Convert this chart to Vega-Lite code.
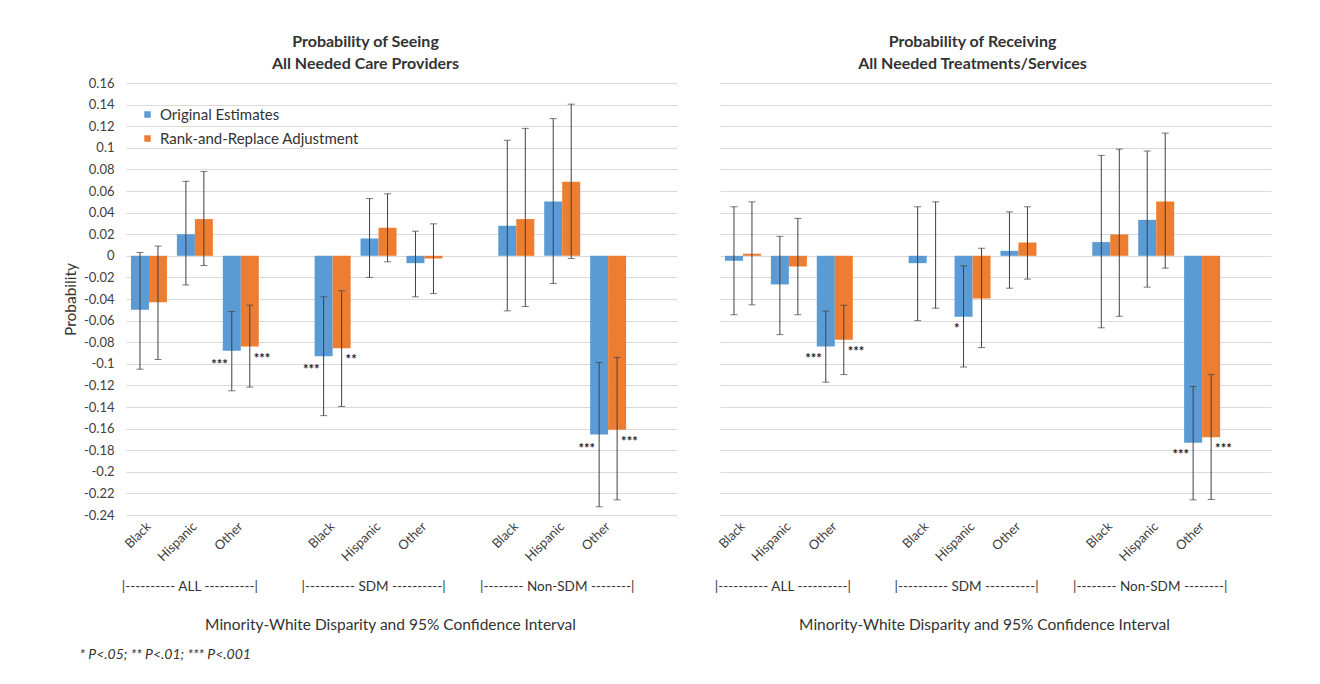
{
  "$schema": "https://vega.github.io/schema/vega-lite/v6.json",
  "padding": {"left": 63, "top": 34, "right": 10, "bottom": 5},
  "background": "white",
  "config": {
    "view": {"stroke": null},
    "font": "Lato",
    "axis": {"labelFont": "Lato", "titleFont": "Lato", "labelColor": "#404040", "titleColor": "#404040"},
    "legend": {"labelFont": "Lato"},
    "title": {"font": "Lato"}
  },
  "datasets": {
    "rows": [
      {"panel": "Seeing", "slot": "ALL|Black", "series": "Original Estimates", "v": -0.050, "lo": -0.105, "hi": 0.003, "sig": ""},
      {"panel": "Seeing", "slot": "ALL|Black", "series": "Rank-and-Replace Adjustment", "v": -0.043, "lo": -0.096, "hi": 0.009, "sig": ""},
      {"panel": "Seeing", "slot": "ALL|Hispanic", "series": "Original Estimates", "v": 0.020, "lo": -0.027, "hi": 0.069, "sig": ""},
      {"panel": "Seeing", "slot": "ALL|Hispanic", "series": "Rank-and-Replace Adjustment", "v": 0.034, "lo": -0.009, "hi": 0.078, "sig": ""},
      {"panel": "Seeing", "slot": "ALL|Other", "series": "Original Estimates", "v": -0.088, "lo": -0.125, "hi": -0.0515, "sig": "***"},
      {"panel": "Seeing", "slot": "ALL|Other", "series": "Rank-and-Replace Adjustment", "v": -0.084, "lo": -0.1216, "hi": -0.0457, "sig": "***"},
      {"panel": "Seeing", "slot": "SDM|Black", "series": "Original Estimates", "v": -0.093, "lo": -0.148, "hi": -0.038, "sig": "***"},
      {"panel": "Seeing", "slot": "SDM|Black", "series": "Rank-and-Replace Adjustment", "v": -0.0855, "lo": -0.1395, "hi": -0.0324, "sig": "**"},
      {"panel": "Seeing", "slot": "SDM|Hispanic", "series": "Original Estimates", "v": 0.016, "lo": -0.020, "hi": 0.053, "sig": ""},
      {"panel": "Seeing", "slot": "SDM|Hispanic", "series": "Rank-and-Replace Adjustment", "v": 0.026, "lo": -0.0056, "hi": 0.0574, "sig": ""},
      {"panel": "Seeing", "slot": "SDM|Other", "series": "Original Estimates", "v": -0.0068, "lo": -0.038, "hi": 0.0228, "sig": ""},
      {"panel": "Seeing", "slot": "SDM|Other", "series": "Rank-and-Replace Adjustment", "v": -0.0025, "lo": -0.035, "hi": 0.0296, "sig": ""},
      {"panel": "Seeing", "slot": "Non-SDM|Black", "series": "Original Estimates", "v": 0.0278, "lo": -0.051, "hi": 0.107, "sig": ""},
      {"panel": "Seeing", "slot": "Non-SDM|Black", "series": "Rank-and-Replace Adjustment", "v": 0.034, "lo": -0.047, "hi": 0.118, "sig": ""},
      {"panel": "Seeing", "slot": "Non-SDM|Hispanic", "series": "Original Estimates", "v": 0.0503, "lo": -0.0256, "hi": 0.127, "sig": ""},
      {"panel": "Seeing", "slot": "Non-SDM|Hispanic", "series": "Rank-and-Replace Adjustment", "v": 0.0685, "lo": -0.0025, "hi": 0.1404, "sig": ""},
      {"panel": "Seeing", "slot": "Non-SDM|Other", "series": "Original Estimates", "v": -0.1655, "lo": -0.2324, "hi": -0.0988, "sig": "***"},
      {"panel": "Seeing", "slot": "Non-SDM|Other", "series": "Rank-and-Replace Adjustment", "v": -0.161, "lo": -0.226, "hi": -0.094, "sig": "***"},
      {"panel": "Receiving", "slot": "ALL|Black", "series": "Original Estimates", "v": -0.0046, "lo": -0.0546, "hi": 0.0454, "sig": ""},
      {"panel": "Receiving", "slot": "ALL|Black", "series": "Rank-and-Replace Adjustment", "v": 0.0019, "lo": -0.0454, "hi": 0.050, "sig": ""},
      {"panel": "Receiving", "slot": "ALL|Hispanic", "series": "Original Estimates", "v": -0.0265, "lo": -0.073, "hi": 0.018, "sig": ""},
      {"panel": "Receiving", "slot": "ALL|Hispanic", "series": "Rank-and-Replace Adjustment", "v": -0.0099, "lo": -0.0546, "hi": 0.0346, "sig": ""},
      {"panel": "Receiving", "slot": "ALL|Other", "series": "Original Estimates", "v": -0.084, "lo": -0.117, "hi": -0.0512, "sig": "***"},
      {"panel": "Receiving", "slot": "ALL|Other", "series": "Rank-and-Replace Adjustment", "v": -0.0778, "lo": -0.110, "hi": -0.0457, "sig": "***"},
      {"panel": "Receiving", "slot": "SDM|Black", "series": "Original Estimates", "v": -0.0068, "lo": -0.060, "hi": 0.0454, "sig": ""},
      {"panel": "Receiving", "slot": "SDM|Black", "series": "Rank-and-Replace Adjustment", "v": 0.0, "lo": -0.0485, "hi": 0.050, "sig": ""},
      {"panel": "Receiving", "slot": "SDM|Hispanic", "series": "Original Estimates", "v": -0.0565, "lo": -0.103, "hi": -0.0093, "sig": "*"},
      {"panel": "Receiving", "slot": "SDM|Hispanic", "series": "Rank-and-Replace Adjustment", "v": -0.0395, "lo": -0.085, "hi": 0.007, "sig": ""},
      {"panel": "Receiving", "slot": "SDM|Other", "series": "Original Estimates", "v": 0.0046, "lo": -0.030, "hi": 0.0407, "sig": ""},
      {"panel": "Receiving", "slot": "SDM|Other", "series": "Rank-and-Replace Adjustment", "v": 0.0123, "lo": -0.0216, "hi": 0.0454, "sig": ""},
      {"panel": "Receiving", "slot": "Non-SDM|Black", "series": "Original Estimates", "v": 0.0127, "lo": -0.0667, "hi": 0.093, "sig": ""},
      {"panel": "Receiving", "slot": "Non-SDM|Black", "series": "Rank-and-Replace Adjustment", "v": 0.0198, "lo": -0.056, "hi": 0.0988, "sig": ""},
      {"panel": "Receiving", "slot": "Non-SDM|Hispanic", "series": "Original Estimates", "v": 0.0333, "lo": -0.029, "hi": 0.097, "sig": ""},
      {"panel": "Receiving", "slot": "Non-SDM|Hispanic", "series": "Rank-and-Replace Adjustment", "v": 0.0503, "lo": -0.0114, "hi": 0.1136, "sig": ""},
      {"panel": "Receiving", "slot": "Non-SDM|Other", "series": "Original Estimates", "v": -0.173, "lo": -0.226, "hi": -0.121, "sig": "***"},
      {"panel": "Receiving", "slot": "Non-SDM|Other", "series": "Rank-and-Replace Adjustment", "v": -0.168, "lo": -0.2256, "hi": -0.110, "sig": "***"}
    ]
  },
  "title": {"text": "* P<.05; ** P<.01; *** P<.001", "orient": "bottom", "anchor": "start", "fontStyle": "italic", "fontSize": 14, "fontWeight": "normal", "color": "#333333", "dx": 16, "offset": 15},
  "spacing": 36,
  "resolve": {"scale": {"x": "independent", "y": "independent", "color": "independent"}},
  "hconcat": [
    {
      "data": {"name": "rows"},
      "transform": [{"filter": "datum.panel == 'Seeing'"}],
      "width": 551,
      "height": 432,
      "title": {"text": ["Probability of Seeing", "All Needed Care Providers"], "fontSize": 16, "fontWeight": "bold", "color": "#333333", "lineHeight": 22, "dx": -36, "offset": 5},
      "resolve": {"axis": {"x": "independent", "y": "independent"}},
      "layer": [
        {
          "mark": {"type": "bar"},
          "encoding": {
            "x": {"field": "slot", "type": "nominal",
              "scale": {"domain": ["ALL|Black","ALL|Hispanic","ALL|Other","g1","SDM|Black","SDM|Hispanic","SDM|Other","g2","Non-SDM|Black","Non-SDM|Hispanic","Non-SDM|Other","g3"], "paddingInner": 0.216, "paddingOuter": 0.108},
              "axis": {"title": null, "labelExpr": "indexof(datum.value, '|') > 0 ? split(datum.value, '|')[1] : ''", "labelAngle": -45, "labelAlign": "right", "labelBaseline": "middle", "labelPadding": 9, "ticks": false, "domain": false, "grid": false, "labelFontSize": 13}},
            "xOffset": {"field": "series", "type": "nominal", "scale": {"domain": ["Original Estimates", "Rank-and-Replace Adjustment"], "paddingInner": 0, "paddingOuter": 0}},
            "y": {"field": "v", "type": "quantitative", "scale": {"domain": [-0.24, 0.16], "nice": false, "zero": false},
              "axis": {"orient": "left", "values": [-0.24,-0.22,-0.2,-0.18,-0.16,-0.14,-0.12,-0.1,-0.08,-0.06,-0.04,-0.02,0,0.02,0.04,0.06,0.08,0.1,0.12,0.14,0.16], "labelExpr": "replace(format(datum.value, '.2~f'), '\u2212', '-')", "grid": true, "gridColor": "#d9d9d9", "domain": false, "ticks": false, "labelPadding": 12, "labelFontSize": 13, "title": "Probability", "titleFontSize": 15.5, "titleFontWeight": "normal", "titleColor": "#333333", "titlePadding": 5}},
            "color": {"field": "series", "type": "nominal", "scale": {"domain": ["Original Estimates", "Rank-and-Replace Adjustment"], "range": ["#5b9bd5", "#ed7d31"]},
              "legend": {"title": null, "orient": "none", "legendX": 14, "legendY": 24, "symbolType": "square", "symbolSize": 42, "labelFontSize": 15, "labelLimit": 400, "labelColor": "#333333", "rowPadding": 8, "labelOffset": 5, "padding": 0}}
          }
        },
        {
          "mark": {"type": "rule", "color": "#404040", "strokeWidth": 1},
          "encoding": {
            "x": {"field": "slot", "type": "nominal",
              "scale": {"domain": ["ALL|Black","ALL|Hispanic","ALL|Other","g1","SDM|Black","SDM|Hispanic","SDM|Other","g2","Non-SDM|Black","Non-SDM|Hispanic","Non-SDM|Other","g3"], "paddingInner": 0.216, "paddingOuter": 0.108},
              "axis": {"orient": "bottom", "offset": 64, "values": ["ALL|Hispanic", "SDM|Hispanic", "Non-SDM|Hispanic"], "labelExpr": "datum.value == 'ALL|Hispanic' ? '|---------- ALL ----------|' : datum.value == 'SDM|Hispanic' ? '|---------- SDM ----------|' : '|-------- Non-SDM --------|'", "labelAngle": 0, "labelAlign": "center", "labelBaseline": "top", "labelPadding": 0, "labelOffset": -5, "ticks": false, "domain": false, "grid": false, "labelFontSize": 13.5, "labelColor": "#333333", "title": "Minority-White Disparity and 95% Confidence Interval", "titleFontSize": 15.5, "titleFontWeight": "normal", "titleColor": "#333333", "titlePadding": 25, "titleX": 264}},
            "xOffset": {"field": "series", "type": "nominal", "scale": {"domain": ["Original Estimates", "Rank-and-Replace Adjustment"], "paddingInner": 0, "paddingOuter": 0}},
            "y": {"field": "lo", "type": "quantitative", "axis": null},
            "y2": {"field": "hi"}
          }
        },
        {
          "transform": [{"fold": ["lo", "hi"], "as": ["end", "ev"]}],
          "mark": {"type": "tick", "color": "#404040", "size": 7, "thickness": 1},
          "encoding": {
            "x": {"field": "slot", "type": "nominal", "axis": null},
            "xOffset": {"field": "series", "type": "nominal", "scale": {"domain": ["Original Estimates", "Rank-and-Replace Adjustment"], "paddingInner": 0, "paddingOuter": 0}},
            "y": {"field": "ev", "type": "quantitative", "axis": null}
          }
        },
        {
          "transform": [{"filter": "datum.sig != '' && datum.series == 'Original Estimates'"}],
          "mark": {"type": "text", "align": "right", "baseline": "middle", "dx": -4, "dy": 14, "fontSize": 13, "fontWeight": "bold", "color": "#222222"},
          "encoding": {
            "x": {"field": "slot", "type": "nominal", "axis": null},
            "xOffset": {"field": "series", "type": "nominal", "scale": {"domain": ["Original Estimates", "Rank-and-Replace Adjustment"], "paddingInner": 0, "paddingOuter": 0}},
            "y": {"field": "v", "type": "quantitative", "axis": null},
            "text": {"field": "sig"}
          }
        },
        {
          "transform": [{"filter": "datum.sig != '' && datum.series == 'Rank-and-Replace Adjustment'"}],
          "mark": {"type": "text", "align": "left", "baseline": "middle", "dx": 4, "dy": 12, "fontSize": 13, "fontWeight": "bold", "color": "#222222"},
          "encoding": {
            "x": {"field": "slot", "type": "nominal", "axis": null},
            "xOffset": {"field": "series", "type": "nominal", "scale": {"domain": ["Original Estimates", "Rank-and-Replace Adjustment"], "paddingInner": 0, "paddingOuter": 0}},
            "y": {"field": "v", "type": "quantitative", "axis": null},
            "text": {"field": "sig"}
          }
        }
      ]
    },
    {
      "data": {"name": "rows"},
      "transform": [{"filter": "datum.panel == 'Receiving'"}],
      "width": 551,
      "height": 432,
      "title": {"text": ["Probability of Receiving", "All Needed Treatments/Services"], "fontSize": 16, "fontWeight": "bold", "color": "#333333", "lineHeight": 22, "dx": -23, "offset": 11},
      "resolve": {"axis": {"x": "independent", "y": "independent"}},
      "layer": [
        {
          "mark": {"type": "bar"},
          "encoding": {
            "x": {"field": "slot", "type": "nominal",
              "scale": {"domain": ["ALL|Black","ALL|Hispanic","ALL|Other","g1","SDM|Black","SDM|Hispanic","SDM|Other","g2","Non-SDM|Black","Non-SDM|Hispanic","Non-SDM|Other","g3"], "paddingInner": 0.216, "paddingOuter": 0.108},
              "axis": {"title": null, "labelExpr": "indexof(datum.value, '|') > 0 ? split(datum.value, '|')[1] : ''", "labelAngle": -45, "labelAlign": "right", "labelBaseline": "middle", "labelPadding": 9, "ticks": false, "domain": false, "grid": false, "labelFontSize": 13}},
            "xOffset": {"field": "series", "type": "nominal", "scale": {"domain": ["Original Estimates", "Rank-and-Replace Adjustment"], "paddingInner": 0, "paddingOuter": 0}},
            "y": {"field": "v", "type": "quantitative", "scale": {"domain": [-0.24, 0.16], "nice": false, "zero": false},
              "axis": {"orient": "left", "values": [-0.24,-0.22,-0.2,-0.18,-0.16,-0.14,-0.12,-0.1,-0.08,-0.06,-0.04,-0.02,0,0.02,0.04,0.06,0.08,0.1,0.12,0.14,0.16], "labels": false, "grid": true, "gridColor": "#d9d9d9", "domain": false, "ticks": false, "title": null}},
            "color": {"field": "series", "type": "nominal", "scale": {"domain": ["Original Estimates", "Rank-and-Replace Adjustment"], "range": ["#5b9bd5", "#ed7d31"]}, "legend": null}
          }
        },
        {
          "mark": {"type": "rule", "color": "#404040", "strokeWidth": 1},
          "encoding": {
            "x": {"field": "slot", "type": "nominal",
              "scale": {"domain": ["ALL|Black","ALL|Hispanic","ALL|Other","g1","SDM|Black","SDM|Hispanic","SDM|Other","g2","Non-SDM|Black","Non-SDM|Hispanic","Non-SDM|Other","g3"], "paddingInner": 0.216, "paddingOuter": 0.108},
              "axis": {"orient": "bottom", "offset": 64, "values": ["ALL|Hispanic", "SDM|Hispanic", "Non-SDM|Hispanic"], "labelExpr": "datum.value == 'ALL|Hispanic' ? '|---------- ALL ----------|' : datum.value == 'SDM|Hispanic' ? '|---------- SDM ----------|' : '|-------- Non-SDM --------|'", "labelAngle": 0, "labelAlign": "center", "labelBaseline": "top", "labelPadding": 0, "labelOffset": -6, "ticks": false, "domain": false, "grid": false, "labelFontSize": 13.5, "labelColor": "#333333", "title": "Minority-White Disparity and 95% Confidence Interval", "titleFontSize": 15.5, "titleFontWeight": "normal", "titleColor": "#333333", "titlePadding": 25, "titleX": 264}},
            "xOffset": {"field": "series", "type": "nominal", "scale": {"domain": ["Original Estimates", "Rank-and-Replace Adjustment"], "paddingInner": 0, "paddingOuter": 0}},
            "y": {"field": "lo", "type": "quantitative", "axis": null},
            "y2": {"field": "hi"}
          }
        },
        {
          "transform": [{"fold": ["lo", "hi"], "as": ["end", "ev"]}],
          "mark": {"type": "tick", "color": "#404040", "size": 7, "thickness": 1},
          "encoding": {
            "x": {"field": "slot", "type": "nominal", "axis": null},
            "xOffset": {"field": "series", "type": "nominal", "scale": {"domain": ["Original Estimates", "Rank-and-Replace Adjustment"], "paddingInner": 0, "paddingOuter": 0}},
            "y": {"field": "ev", "type": "quantitative", "axis": null}
          }
        },
        {
          "transform": [{"filter": "datum.sig != '' && datum.series == 'Original Estimates'"}],
          "mark": {"type": "text", "align": "right", "baseline": "middle", "dx": -4, "dy": 12, "fontSize": 13, "fontWeight": "bold", "color": "#222222"},
          "encoding": {
            "x": {"field": "slot", "type": "nominal", "axis": null},
            "xOffset": {"field": "series", "type": "nominal", "scale": {"domain": ["Original Estimates", "Rank-and-Replace Adjustment"], "paddingInner": 0, "paddingOuter": 0}},
            "y": {"field": "v", "type": "quantitative", "axis": null},
            "text": {"field": "sig"}
          }
        },
        {
          "transform": [{"filter": "datum.sig != '' && datum.series == 'Rank-and-Replace Adjustment'"}],
          "mark": {"type": "text", "align": "left", "baseline": "middle", "dx": 4, "dy": 12, "fontSize": 13, "fontWeight": "bold", "color": "#222222"},
          "encoding": {
            "x": {"field": "slot", "type": "nominal", "axis": null},
            "xOffset": {"field": "series", "type": "nominal", "scale": {"domain": ["Original Estimates", "Rank-and-Replace Adjustment"], "paddingInner": 0, "paddingOuter": 0}},
            "y": {"field": "v", "type": "quantitative", "axis": null},
            "text": {"field": "sig"}
          }
        }
      ]
    }
  ]
}
